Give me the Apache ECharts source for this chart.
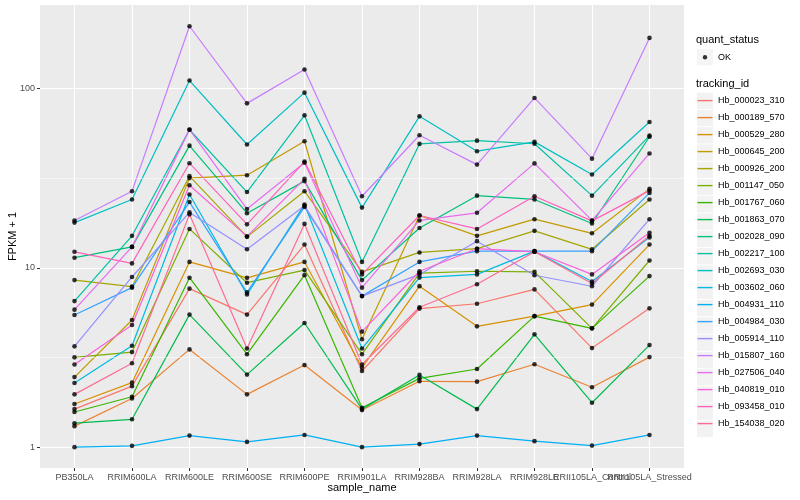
<!DOCTYPE html>
<html><head><meta charset="utf-8">
<script src="https://cdn.jsdelivr.net/npm/echarts@6/dist/echarts.min.js"></script>
<style>html,body{margin:0;padding:0;background:#fff}#c{width:800px;height:500px}</style>
</head><body><div id="c"></div>
<script>
const categories = ["PB350LA","RRIM600LA","RRIM600LE","RRIM600SE","RRIM600PE","RRIM901LA","RRIM928BA","RRIM928LA","RRIM928LE","RRII105LA_Control","RRII105LA_Stressed"];
const trackingIds = ["Hb_000023_310","Hb_000189_570","Hb_000529_280","Hb_000645_200","Hb_000926_200","Hb_001147_050","Hb_001767_060","Hb_001863_070","Hb_002028_090","Hb_002217_100","Hb_002693_030","Hb_003602_060","Hb_004931_110","Hb_004984_030","Hb_005914_110","Hb_015807_160","Hb_027506_040","Hb_040819_010","Hb_093458_010","Hb_154038_020"];
const colors = ["#F8766D","#EA8331","#D89000","#C09B00","#A3A500","#7CAE00","#39B600","#00BB4E","#00BF7D","#00C1A3","#00BFC4","#00BAE0","#00B0F6","#35A2FF","#9590FF","#C77CFF","#E76BF3","#FA62DB","#FF62BC","#FF6C91"];

const hb_000023_310 = [1.63, 2.19, 7.66, 5.49, 13.5, 2.66, 5.93, 6.31, 7.59, 3.57, 5.95];
const hb_000189_570 = [1.31, 1.87, 3.51, 1.97, 2.87, 1.61, 2.33, 2.32, 2.90, 2.16, 3.18];
const hb_000529_280 = [1.74, 2.29, 10.8, 8.8, 10.8, 2.78, 7.91, 4.72, 5.38, 6.24, 13.5];
const hb_000645_200 = [2.46, 5.12, 31.7, 32.9, 50.9, 4.0, 19.6, 15.1, 18.7, 15.6, 27.6];
const hb_000926_200 = [8.55, 7.86, 32.5, 14.9, 26.8, 9.5, 12.2, 12.8, 16.1, 12.7, 24.1];
const hb_001147_050 = [3.17, 3.39, 16.5, 8.27, 9.72, 3.30, 9.36, 9.58, 9.5, 4.6, 11.0];
const hb_001767_060 = [1.57, 1.91, 8.82, 3.30, 9.11, 1.66, 2.42, 2.73, 5.38, 4.6, 9.0];
const hb_001863_070 = [1.36, 1.43, 5.49, 2.54, 4.93, 1.63, 2.53, 1.63, 4.26, 1.77, 3.71];
const hb_002028_090 = [11.4, 13.1, 48.1, 20.2, 30.5, 8.55, 16.7, 25.3, 24.1, 17.7, 53.9];
const hb_002217_100 = [6.53, 15.1, 59, 26.5, 71, 10.8, 49.2, 51.3, 49.3, 25.3, 54.7];
const hb_002693_030 = [17.9, 24.1, 111, 48.8, 95, 21.7, 70.1, 44.8, 50.5, 33.2, 65.2];
const hb_003602_060 = [2.28, 3.68, 25.7, 7.1, 22.6, 3.55, 8.83, 9.2, 12.4, 8.4, 14.8];
const hb_004931_110 = [1.0, 1.017, 1.16, 1.07, 1.17, 1.0, 1.04, 1.16, 1.08, 1.02, 1.17];
const hb_004984_030 = [5.46, 7.76, 23.3, 7.3, 21.9, 6.96, 10.8, 12.4, 12.4, 12.4, 26.2];
const hb_005914_110 = [3.65, 8.9, 20.4, 12.7, 22.2, 6.96, 9.2, 14.1, 9.1, 7.9, 18.7];
const hb_015807_160 = [18.4, 26.8, 223, 82.8, 128, 25.1, 55, 37.7, 88.8, 40.7, 192];
const hb_027506_040 = [5.85, 13.1, 59.1, 21.3, 38.6, 7.76, 18.4, 20.3, 38.3, 18.4, 43.5];
const hb_040819_010 = [2.89, 4.8, 28.9, 15.0, 31.4, 4.41, 9.58, 12.8, 12.3, 9.2, 15.7];
const hb_093458_010 = [12.3, 10.6, 38.4, 17.5, 39.2, 9.2, 19.6, 16.5, 25.1, 18.3, 27.0];
const hb_154038_020 = [1.97, 2.94, 19.9, 3.55, 17.6, 2.89, 6.03, 8.1, 12.3, 8.18, 15.1];

const yTicks = [1, 10, 100];
const yMinorTicks = [3.1623, 31.623];

const seriesValues = [hb_000023_310, hb_000189_570, hb_000529_280, hb_000645_200, hb_000926_200, hb_001147_050, hb_001767_060, hb_001863_070, hb_002028_090, hb_002217_100, hb_002693_030, hb_003602_060, hb_004931_110, hb_004984_030, hb_005914_110, hb_015807_160, hb_027506_040, hb_040819_010, hb_093458_010, hb_154038_020];

const FONT = "'Liberation Sans', Arial, sans-serif";
const Y_MIN = 0.765, Y_MAX = 293;

const lineSeries = seriesValues.map((vals, k) => ({
  name: trackingIds[k], type: 'line', xAxisIndex: 1, yAxisIndex: 1,
  data: vals.map((v, i) => [i, v]), showSymbol: false, color: colors[k],
  itemStyle: { color: colors[k] },
  lineStyle: { width: 1.2, color: colors[k] }, silent: true, z: 2, animation: false
}));
const allPoints = [];
seriesValues.forEach(vals => vals.forEach((v, i) => allPoints.push([i, v])));

const boxIcon = 'rect';
const lineIcon = 'path://M0,0L0,0M16,16L16,16M0.5,7.3h15v1.4h-15z';
const dotIcon = 'path://M0,0L0,0M16,16L16,16M5.8,8a2.2,2.2 0 1,0 4.4,0a2.2,2.2 0 1,0 -4.4,0z';

const ALT = 9; // label drawn on a second axis so neighbours can overlap as in the reference
const xLabelBase = { color: '#4D4D4D', fontSize: 9, margin: 5, fontFamily: FONT, hideOverlap: false, showMinLabel: true, showMaxLabel: true };

const option = {
  animation: false,
  backgroundColor: '#fff',
  textStyle: { fontFamily: FONT },
  title: [
    { text: 'quant_status', left: 696, top: 34.5, padding: 0, textStyle: { fontSize: 11, fontWeight: 'normal', color: '#000', fontFamily: FONT } },
    { text: 'tracking_id', left: 696, top: 78, padding: 0, textStyle: { fontSize: 11, fontWeight: 'normal', color: '#000', fontFamily: FONT } }
  ],
  grid: [
    { left: 40, top: 5, width: 644, height: 463, show: true, backgroundColor: '#EBEBEB', borderWidth: 0, containLabel: false, outerBoundsMode: 'none' },
    { left: 74.5, top: 5, width: 575, height: 463, show: false, containLabel: false, outerBoundsMode: 'none' }
  ],
  xAxis: [
    { gridIndex: 0, type: 'value', min: 0, max: 1, show: false },
    { gridIndex: 1, type: 'value', min: 0, max: 10, interval: 1, position: 'bottom',
      axisLine: { show: false },
      axisTick: { show: true, length: 3, lineStyle: { color: '#333', width: 1 } },
      axisLabel: Object.assign({}, xLabelBase, { formatter: v => (v === ALT ? '' : (categories[v] || '')) }),
      splitLine: { show: true, lineStyle: { color: '#fff', width: 1.1 } },
      name: 'sample_name', nameLocation: 'middle', nameGap: 14, nameMoveOverlap: false,
      nameTextStyle: { fontSize: 11, color: '#000', fontFamily: FONT } },
    { gridIndex: 1, type: 'value', min: 0, max: 10, interval: 1, position: 'bottom', offset: 0,
      axisLine: { show: false }, axisTick: { show: false }, splitLine: { show: false },
      axisLabel: Object.assign({}, xLabelBase, { formatter: v => (v === ALT ? categories[v] : '') }) }
  ],
  yAxis: [
    { gridIndex: 0, type: 'log', logBase: 10, min: Y_MIN, max: Y_MAX,
      axisLine: { show: false },
      axisTick: { show: true, length: 3, lineStyle: { color: '#333', width: 1 }, customValues: yTicks },
      axisLabel: { customValues: yTicks, color: '#4D4D4D', fontSize: 9, margin: 5, fontFamily: FONT, formatter: v => String(v) },
      splitLine: { show: true, lineStyle: { color: '#fff', width: 1.1 } },
      minorSplitLine: { show: false },
      name: 'FPKM + 1', nameLocation: 'middle', nameGap: 22, nameMoveOverlap: false,
      nameTextStyle: { fontSize: 11, color: '#000', fontFamily: FONT } },
    { gridIndex: 1, type: 'log', logBase: 10, min: Y_MIN, max: Y_MAX, show: false, splitLine: { show: false } }
  ],
  legend: [
    { data: ['OK'], left: 697, top: 49.3, itemWidth: 16, itemHeight: 16, icon: boxIcon, selectedMode: false,
      itemStyle: { color: '#F2F2F2', borderWidth: 0 }, textStyle: { color: 'rgba(0,0,0,0)', fontSize: 9 }, padding: 0 },
    { data: ['OK'], left: 697, top: 49.3, itemWidth: 16, itemHeight: 16, icon: dotIcon, selectedMode: false,
      itemStyle: { color: '#000', borderWidth: 0 }, textStyle: { color: '#000', fontSize: 9, fontFamily: FONT }, padding: 0 },
    { data: trackingIds, orient: 'vertical', left: 697, top: 92.6, itemWidth: 16, itemHeight: 16.28, itemGap: 1, icon: boxIcon, selectedMode: false,
      itemStyle: { color: '#F2F2F2', borderWidth: 0 }, textStyle: { color: 'rgba(0,0,0,0)', fontSize: 9 }, padding: 0 },
    { data: trackingIds, orient: 'vertical', left: 697, top: 92.6, itemWidth: 16, itemHeight: 16.28, itemGap: 1, icon: lineIcon, selectedMode: false,
      itemStyle: { borderWidth: 0 }, textStyle: { color: '#000', fontSize: 9, fontFamily: FONT }, padding: 0 }
  ],
  series: [
    { type: 'line', xAxisIndex: 0, yAxisIndex: 0, data: [], silent: true,
      markLine: { silent: true, symbol: 'none', label: { show: false }, animation: false,
        lineStyle: { color: '#fff', width: 0.55, type: 'solid' },
        data: yMinorTicks.map(v => ({ yAxis: v })) } },
    ...lineSeries,
    { name: 'OK', type: 'scatter', xAxisIndex: 1, yAxisIndex: 1, data: allPoints, symbolSize: 4.6,
      itemStyle: { color: '#000' }, silent: true, z: 5 }
  ]
};
const chart = echarts.init(document.getElementById('c'), null, { renderer: 'canvas' });
chart.setOption(option);
</script></body></html>
